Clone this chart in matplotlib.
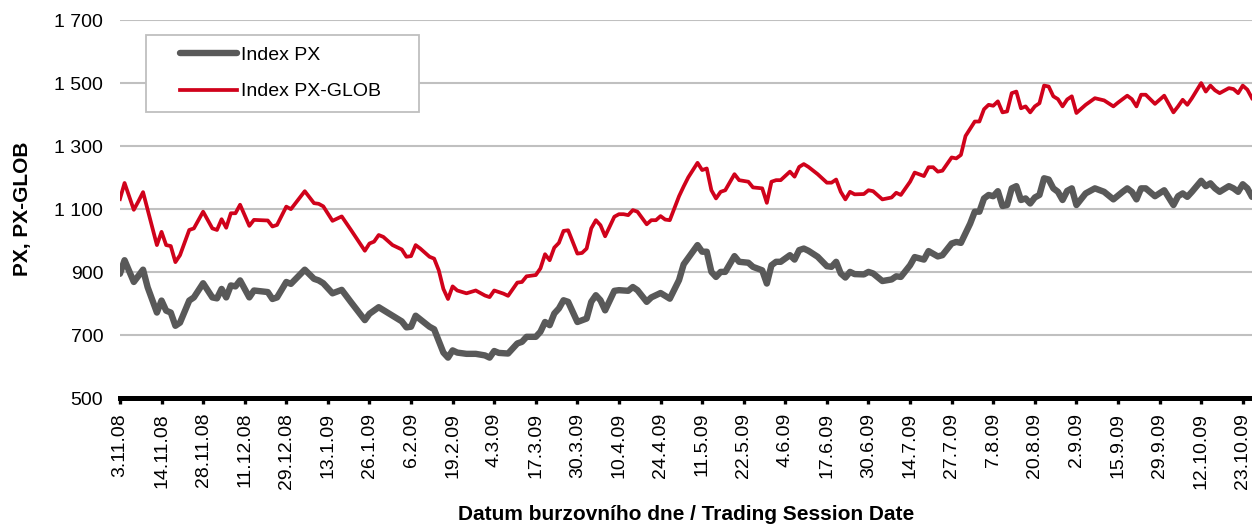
import numpy as np
import matplotlib
matplotlib.use("Agg")
import matplotlib.pyplot as plt
from matplotlib.patches import Rectangle
from matplotlib.ticker import FuncFormatter

plt.rcParams["font.family"] = ["Liberation Sans", "DejaVu Sans"]

# trading session number (0 = 3.11.08) and index value
px_day = [0, 1, 3, 5, 6, 8, 9, 10, 11, 12, 13, 15, 16, 18, 20, 21, 22, 23, 24, 25,
          26, 28, 29, 32, 33, 34, 36, 37, 40, 42, 43, 44, 46, 48, 50, 53, 54, 56, 59,
          61, 62, 63, 64, 67, 68, 69, 70, 71, 72, 73, 75, 77, 79, 80, 81, 82, 84, 86,
          87, 88, 90, 91, 92, 93, 94, 95, 96, 97, 98, 99, 101, 102, 103, 104, 105, 107,
          108, 110, 111, 112, 114, 115, 117, 119, 121, 122, 125, 126, 127, 128, 129,
          130, 131, 133, 134, 136, 137, 139, 140, 141, 142, 143, 145, 146, 147, 148,
          149, 151, 153, 154, 155, 156, 157, 158, 159, 161, 162, 163, 165, 167, 168,
          169, 171, 172, 174, 175, 177, 178, 180, 181, 182, 184, 185, 186, 187, 188,
          189, 190, 191, 192, 193, 194, 195, 196, 197, 198, 199, 200, 201, 202, 203,
          204, 205, 206, 207, 209, 211, 213, 215, 217, 218, 219, 220, 221, 222, 224,
          226, 228, 229, 230, 231, 232, 234, 235, 236, 237, 238, 240, 241, 242, 243,
          244, 245]
px_val = [895, 938, 869, 908, 852, 772, 810, 778, 772, 730, 740, 810, 820, 865, 820,
          817, 847, 820, 858, 855, 874, 820, 842, 837, 815, 820, 869, 863, 908, 879,
          874, 865, 833, 844, 805, 748, 768, 789, 762, 744, 725, 727, 762, 727, 719,
          682, 645, 629, 652, 645, 641, 641, 636, 629, 650, 644, 642, 674, 679, 695,
          695, 711, 742, 732, 769, 785, 811, 806, 774, 742, 753, 806, 827, 811, 779,
          841, 843, 841, 853, 843, 806, 820, 834, 816, 875, 925, 986, 965, 965, 901,
          885, 901, 901, 951, 933, 930, 917, 906, 864, 922, 933, 933, 954, 940, 970,
          975, 968, 949, 919, 917, 933, 896, 883, 901, 894, 893, 901, 896, 872, 877,
          887, 885, 922, 948, 940, 967, 950, 954, 991, 996, 993, 1054, 1092, 1092,
          1134, 1145, 1141, 1157, 1110, 1113, 1166, 1173, 1129, 1134, 1118, 1137,
          1145, 1198, 1194, 1166, 1155, 1129, 1158, 1166, 1113, 1150, 1166, 1155,
          1131, 1155, 1166, 1155, 1131, 1166, 1166, 1141, 1160, 1113, 1141, 1150,
          1139, 1155, 1190, 1173, 1182, 1166, 1155, 1173, 1166, 1155, 1179, 1166,
          1139]

glob_day = [0, 1, 3, 4, 5, 8, 9, 10, 11, 12, 13, 15, 16, 18, 20, 21, 22, 23, 24, 25,
            26, 28, 29, 32, 33, 34, 36, 37, 40, 42, 43, 44, 46, 48, 50, 53, 54, 55,
            56, 57, 59, 61, 62, 63, 64, 65, 67, 68, 69, 70, 71, 72, 73, 75, 77, 79,
            80, 81, 83, 84, 86, 87, 88, 90, 91, 92, 93, 94, 95, 96, 97, 98, 99, 100,
            101, 102, 103, 104, 105, 107, 108, 109, 110, 111, 112, 114, 115, 116, 117,
            118, 119, 121, 122, 123, 125, 126, 127, 128, 129, 130, 131, 133, 134, 136,
            137, 139, 140, 141, 142, 143, 145, 146, 147, 148, 149, 151, 153, 154, 155,
            156, 157, 158, 159, 161, 162, 163, 165, 167, 168, 169, 171, 172, 174, 175,
            176, 177, 178, 180, 181, 182, 183, 185, 186, 187, 188, 189, 190, 191, 192,
            193, 194, 195, 196, 197, 198, 199, 200, 201, 202, 203, 204, 205, 206, 207,
            209, 211, 213, 215, 216, 218, 219, 220, 221, 222, 224, 226, 228, 229, 230,
            231, 232, 234, 235, 236, 237, 238, 240, 241, 242, 243, 244, 245]
glob_val = [1132, 1183, 1098, 1125, 1154, 986, 1028, 986, 983, 932, 954, 1034, 1039,
            1092, 1039, 1034, 1068, 1041, 1087, 1087, 1114, 1047, 1066, 1064, 1045,
            1050, 1108, 1100, 1157, 1119, 1117, 1109, 1063, 1077, 1034, 968, 991, 997,
            1018, 1012, 986, 972, 949, 951, 986, 975, 949, 943, 906, 847, 815, 855,
            842, 833, 842, 826, 821, 842, 832, 825, 867, 869, 887, 891, 912, 957, 938,
            978, 993, 1031, 1033, 996, 959, 961, 975, 1039, 1065, 1049, 1014, 1076,
            1084, 1084, 1081, 1097, 1092, 1052, 1065, 1065, 1078, 1067, 1065, 1141,
            1172, 1201, 1247, 1224, 1229, 1160, 1134, 1155, 1160, 1211, 1192, 1187,
            1169, 1166, 1120, 1187, 1192, 1192, 1219, 1203, 1234, 1243, 1234, 1211,
            1184, 1184, 1194, 1155, 1131, 1155, 1147, 1148, 1160, 1157, 1131, 1137,
            1152, 1145, 1187, 1216, 1205, 1233, 1233, 1219, 1222, 1264, 1261, 1272,
            1332, 1378, 1378, 1417, 1431, 1428, 1442, 1407, 1410, 1468, 1473, 1420,
            1426, 1407, 1426, 1436, 1492, 1489, 1458, 1449, 1426, 1448, 1458, 1405,
            1431, 1452, 1445, 1426, 1438, 1460, 1449, 1426, 1463, 1463, 1434, 1460,
            1407, 1426, 1447, 1431, 1452, 1500, 1473, 1492, 1477, 1468, 1484, 1481,
            1468, 1492, 1479, 1452]

# one date label every 9th trading session
date_labels = ["3.11.08", "14.11.08", "28.11.08", "11.12.08", "29.12.08", "13.1.09",
               "26.1.09", "6.2.09", "19.2.09", "4.3.09", "17.3.09", "30.3.09",
               "10.4.09", "24.4.09", "11.5.09", "22.5.09", "4.6.09", "17.6.09",
               "30.6.09", "14.7.09", "27.7.09", "7.8.09", "20.8.09", "2.9.09",
               "15.9.09", "29.9.09", "12.10.09", "23.10.09"]
label_step = 9

GRAY = "#595959"
RED = "#D0021B"

fig = plt.figure(figsize=(12.52, 5.24), dpi=100)
ax = fig.add_axes([0.0958, 0.2399, 0.9042, 0.7219])

ax.plot(px_day, px_val, color=GRAY, lw=4.6, solid_joinstyle="round",
        solid_capstyle="round", label="Index PX", zorder=3)
ax.plot(glob_day, glob_val, color=RED, lw=2.7, solid_joinstyle="round",
        label="Index PX-GLOB", zorder=4)

ax.set_xlim(0, px_day[-1])
ax.set_ylim(500, 1700)
ax.set_yticks(np.arange(500, 1701, 200))
ax.yaxis.set_major_formatter(FuncFormatter(lambda v, _: f"{v:,.0f}".replace(",", " ")))
ax.set_xticks(np.arange(len(date_labels)) * label_step)
ax.set_xticklabels(date_labels, rotation=90)

ax.grid(axis="y", color="#C0C0C0", lw=1.5, zorder=0)
ax.set_axisbelow(True)
for side in ("left", "right", "top"):
    ax.spines[side].set_visible(False)
ax.spines["bottom"].set_linewidth(3.6)
ax.spines["bottom"].set_zorder(5)
ax.tick_params(axis="y", length=0, pad=12, labelsize=14)
ax.tick_params(axis="x", direction="out", length=4.5, width=2.4, pad=6, labelsize=14)

ax.set_ylabel("PX, PX-GLOB", fontsize=15, fontweight="bold")
ax.yaxis.set_label_coords(-0.078, 0.5)
ax.set_xlabel("Datum burzovního dne / Trading Session Date", fontsize=15,
              fontweight="bold")
ax.xaxis.set_label_coords(0.5, -0.282)

# legend frame drawn separately so the handles can sit indented in the box
frame = Rectangle((0.023, 0.757), 0.241, 0.203, transform=ax.transAxes,
                  facecolor="white", edgecolor="#BFBFBF", lw=1.3, zorder=6)
ax.add_patch(frame)
leg = ax.legend(loc="upper left", bbox_to_anchor=(0.053, 0.930), frameon=False,
                fontsize=14, handlelength=2.95, handletextpad=0.2, borderpad=0,
                borderaxespad=0, labelspacing=0.96)
leg.set_zorder(7)

fig.savefig("out.png", dpi=100)
